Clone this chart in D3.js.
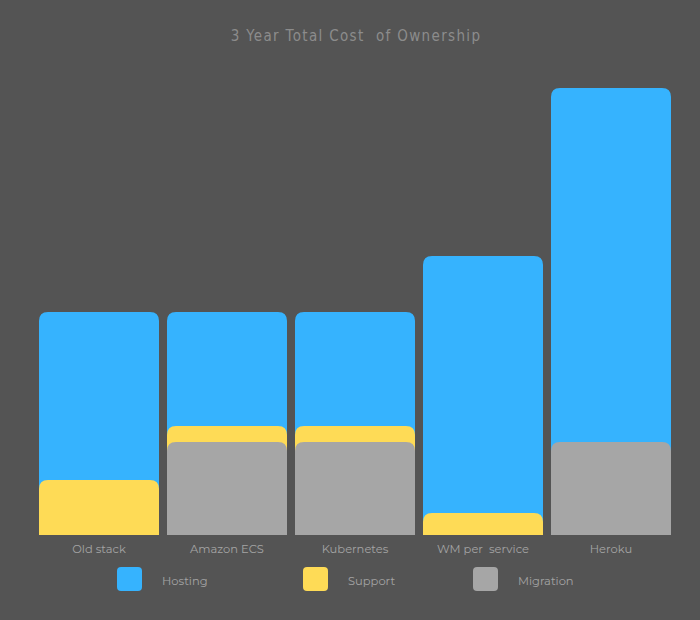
<!DOCTYPE html>
<html><head><meta charset="utf-8">
<script src="https://cdn.jsdelivr.net/npm/d3@7"></script>
<style>
html,body{margin:0;padding:0;background:#545454;}
svg{display:block;}
text{white-space:pre;}
</style></head>
<body>
<script>
const categories = ["Old stack", "Amazon ECS", "Kubernetes", "WM per  service", "Heroku"];
const seriesKeys = ["Migration", "Support", "Hosting"]; // stacking order from bottom
const hosting   = [37.6, 25.5, 25.5, 57.5, 79.2];
const support   = [12.3, 3.6, 3.6, 4.9, 0];
const migration = [0, 20.8, 20.8, 0, 20.8];
const legendKeys = ["Hosting", "Support", "Migration"];
const colors = {Hosting: "#36b3fe", Support: "#fedb56", Migration: "#a6a6a6"};

const W = 700, H = 620;
const rows = categories.map((c, i) => ({cat: c, Hosting: hosting[i], Support: support[i], Migration: migration[i]}));
const stacked = d3.stack().keys(seriesKeys)(rows);

const svg = d3.select("body").append("svg").attr("width", W).attr("height", H);
svg.append("rect").attr("width", W).attr("height", H).attr("fill", "#545454");

const x = d3.scaleBand().domain(categories).range([39, 671]).paddingInner(0.0625).paddingOuter(0);
const y = d3.scaleLinear().domain([0, 100]).range([535, 88]);

function topRounded(x0, y0, w, y1, r) {
  const h = y1 - y0;
  const rr = Math.min(r, h, w / 2);
  return `M${x0},${y1}V${y0 + rr}Q${x0},${y0} ${x0 + rr},${y0}H${x0 + w - rr}Q${x0 + w},${y0} ${x0 + w},${y0 + rr}V${y1}Z`;
}

// draw in reverse so the top series is drawn first (full height), lower series overlap it
const drawOrder = stacked.slice().reverse();
drawOrder.forEach(layer => {
  svg.append("g").selectAll("path").data(layer).join("path")
    .filter(d => d[1] - d[0] > 0)
    .attr("d", d => topRounded(x(d.data.cat), y(d[1]), x.bandwidth(), y(0), 9))
    .attr("fill", colors[layer.key]);
});

// title
svg.append("text").attr("x", 356).attr("y", 41).attr("text-anchor", "middle")
  .attr("font-family", "DejaVu Sans Condensed, DejaVu Sans").attr("font-size", 15)
  .attr("letter-spacing", 1.35).attr("fill", "#8c8c8c")
  .text("3 Year Total Cost  of Ownership");

// x axis labels
const xAxis = d3.axisBottom(x).tickSize(0).tickPadding(10);
const gx = svg.append("g").attr("transform", `translate(0,${y(0)})`).call(xAxis);
gx.select(".domain").remove();
gx.selectAll("text").attr("font-family", "Montserrat, Open Sans, sans-serif").attr("font-size", 11.5)
  .attr("fill", "#a4a4a4");

// legend
const legendX = [117, 303, 473];
const lg = svg.append("g").selectAll("g").data(legendKeys).join("g")
  .attr("transform", (d, i) => `translate(${legendX[i]},567)`);
lg.append("rect").attr("width", 25).attr("height", 24).attr("rx", 4).attr("fill", d => colors[d]);
lg.append("text").attr("x", 45).attr("y", 14).attr("dy", "0.35em")
  .attr("font-family", "Montserrat, Open Sans, sans-serif").attr("font-size", 11.5)
  .attr("fill", "#a4a4a4").text(d => d);
</script>
</body></html>
